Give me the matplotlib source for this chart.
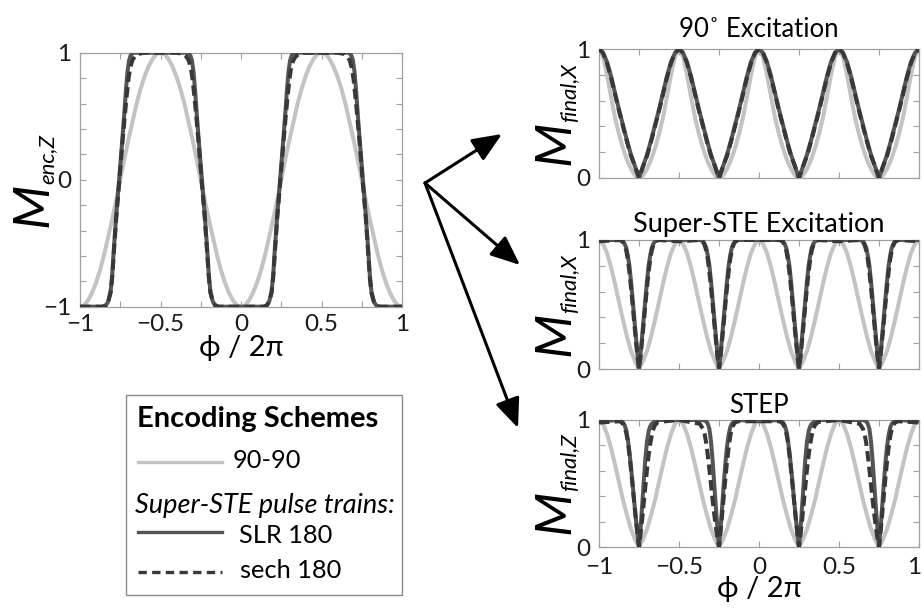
import numpy as np
import matplotlib
matplotlib.use("Agg")
import matplotlib.pyplot as plt
from matplotlib.patches import FancyArrowPatch, Rectangle
from matplotlib.lines import Line2D
from matplotlib.transforms import ScaledTranslation

plt.rcParams['font.family'] = ['Lato', 'DejaVu Sans']
plt.rcParams['axes.unicode_minus'] = True

W, H = 924, 608

# ------------------------------------------------------------------ data
# common phase grid (phi / 2pi) for the smooth curves
phi_grid = np.linspace(-1, 1, 81)

# ---- left panel: encoded longitudinal magnetisation M_enc,Z
enc_9090 = [
    -1.00, -0.99, -0.95, -0.89, -0.81, -0.71, -0.59, -0.45, -0.31, -0.16, 0.00,
    0.16, 0.31, 0.45, 0.59, 0.71, 0.81, 0.89, 0.95, 0.99, 1.00,
    0.99, 0.95, 0.89, 0.81, 0.71, 0.59, 0.45, 0.31, 0.16, 0.00,
    -0.16, -0.31, -0.45, -0.59, -0.71, -0.81, -0.89, -0.95, -0.99, -1.00,
    -0.99, -0.95, -0.89, -0.81, -0.71, -0.59, -0.45, -0.31, -0.16, 0.00,
    0.16, 0.31, 0.45, 0.59, 0.71, 0.81, 0.89, 0.95, 0.99, 1.00,
    0.99, 0.95, 0.89, 0.81, 0.71, 0.59, 0.45, 0.31, 0.16, 0.00,
    -0.16, -0.31, -0.45, -0.59, -0.71, -0.81, -0.89, -0.95, -0.99, -1.00]

enc_slr_phi = [
    -1.00, -0.86, -0.84, -0.825, -0.81, -0.80, -0.79, -0.775, -0.757, -0.74, -0.725, -0.715, -0.705, -0.695, -0.685, -0.67,
    -0.33, -0.315, -0.305, -0.295, -0.285, -0.275, -0.26, -0.243, -0.225, -0.21, -0.20, -0.19, -0.175, -0.16, -0.14,
    0.14, 0.16, 0.175, 0.19, 0.20, 0.21, 0.225, 0.243, 0.26, 0.275, 0.285, 0.295, 0.305, 0.315, 0.33,
    0.67, 0.685, 0.695, 0.705, 0.715, 0.725, 0.74, 0.757, 0.775, 0.79, 0.80, 0.81, 0.825, 0.84, 0.86, 1.00]
enc_slr = [
    -1.00, -1.00, -0.99, -0.96, -0.88, -0.75, -0.55, -0.28, 0.00, 0.27, 0.52, 0.70, 0.85, 0.94, 0.98, 1.00,
    1.00, 0.98, 0.94, 0.85, 0.70, 0.52, 0.27, 0.00, -0.28, -0.55, -0.75, -0.88, -0.96, -0.99, -1.00,
    -1.00, -0.99, -0.96, -0.88, -0.75, -0.55, -0.28, 0.00, 0.27, 0.52, 0.70, 0.85, 0.94, 0.98, 1.00,
    1.00, 0.98, 0.94, 0.85, 0.70, 0.52, 0.27, 0.00, -0.28, -0.55, -0.75, -0.88, -0.96, -0.99, -1.00, -1.00]

enc_sech_phi = [
    -1.00, -0.86, -0.84, -0.825, -0.81, -0.80, -0.79, -0.775, -0.755, -0.738, -0.722, -0.71, -0.70, -0.69, -0.675, -0.66, -0.64, -0.60,
    -0.40, -0.36, -0.34, -0.325, -0.31, -0.30, -0.29, -0.278, -0.262, -0.245, -0.225, -0.21, -0.20, -0.19, -0.175, -0.16, -0.14,
    0.14, 0.16, 0.175, 0.19, 0.20, 0.21, 0.225, 0.245, 0.262, 0.278, 0.29, 0.30, 0.31, 0.325, 0.34, 0.36, 0.40,
    0.60, 0.64, 0.66, 0.675, 0.69, 0.70, 0.71, 0.722, 0.738, 0.755, 0.775, 0.79, 0.80, 0.81, 0.825, 0.84, 0.86, 1.00]
enc_sech = [
    -1.00, -1.00, -0.99, -0.96, -0.89, -0.77, -0.58, -0.30, 0.00, 0.27, 0.50, 0.66, 0.78, 0.87, 0.94, 0.97, 0.99, 1.00,
    1.00, 0.99, 0.97, 0.94, 0.87, 0.78, 0.66, 0.50, 0.27, 0.00, -0.30, -0.58, -0.77, -0.89, -0.96, -0.99, -1.00,
    -1.00, -0.99, -0.96, -0.89, -0.77, -0.58, -0.30, 0.00, 0.27, 0.50, 0.66, 0.78, 0.87, 0.94, 0.97, 0.99, 1.00,
    1.00, 0.99, 0.97, 0.94, 0.87, 0.78, 0.66, 0.50, 0.27, 0.00, -0.30, -0.58, -0.77, -0.89, -0.96, -0.99, -1.00, -1.00]

# ---- right top: 90 deg excitation, M_final,X (on phi_grid)
exc90_9090 = [
    1.00, 0.94, 0.80, 0.63, 0.47, 0.34, 0.23, 0.14, 0.07, 0.02, 0.00,
    0.02, 0.07, 0.14, 0.23, 0.34, 0.47, 0.63, 0.80, 0.94, 1.00,
    0.94, 0.80, 0.63, 0.47, 0.34, 0.23, 0.14, 0.07, 0.02, 0.00,
    0.02, 0.07, 0.14, 0.23, 0.34, 0.47, 0.63, 0.80, 0.94, 1.00,
    0.94, 0.80, 0.63, 0.47, 0.34, 0.23, 0.14, 0.07, 0.02, 0.00,
    0.02, 0.07, 0.14, 0.23, 0.34, 0.47, 0.63, 0.80, 0.94, 1.00,
    0.94, 0.80, 0.63, 0.47, 0.34, 0.23, 0.14, 0.07, 0.02, 0.00,
    0.02, 0.07, 0.14, 0.23, 0.34, 0.47, 0.63, 0.80, 0.94, 1.00]
exc90_slr = [
    1.00, 0.97, 0.90, 0.79, 0.66, 0.53, 0.41, 0.29, 0.18, 0.09, 0.00,
    0.09, 0.18, 0.29, 0.41, 0.53, 0.66, 0.79, 0.90, 0.97, 1.00,
    0.97, 0.90, 0.79, 0.66, 0.53, 0.41, 0.29, 0.18, 0.09, 0.00,
    0.09, 0.18, 0.29, 0.41, 0.53, 0.66, 0.79, 0.90, 0.97, 1.00,
    0.97, 0.90, 0.79, 0.66, 0.53, 0.41, 0.29, 0.18, 0.09, 0.00,
    0.09, 0.18, 0.29, 0.41, 0.53, 0.66, 0.79, 0.90, 0.97, 1.00,
    0.97, 0.90, 0.79, 0.66, 0.53, 0.41, 0.29, 0.18, 0.09, 0.00,
    0.09, 0.18, 0.29, 0.41, 0.53, 0.66, 0.79, 0.90, 0.97, 1.00]
exc90_sech = [
    1.00, 0.97, 0.89, 0.78, 0.65, 0.52, 0.40, 0.28, 0.17, 0.09, 0.00,
    0.09, 0.17, 0.28, 0.40, 0.52, 0.65, 0.78, 0.89, 0.97, 1.00,
    0.97, 0.89, 0.78, 0.65, 0.52, 0.40, 0.28, 0.17, 0.09, 0.00,
    0.09, 0.17, 0.28, 0.40, 0.52, 0.65, 0.78, 0.89, 0.97, 1.00,
    0.97, 0.89, 0.78, 0.65, 0.52, 0.40, 0.28, 0.17, 0.09, 0.00,
    0.09, 0.17, 0.28, 0.40, 0.52, 0.65, 0.78, 0.89, 0.97, 1.00,
    0.97, 0.89, 0.78, 0.65, 0.52, 0.40, 0.28, 0.17, 0.09, 0.00,
    0.09, 0.17, 0.28, 0.40, 0.52, 0.65, 0.78, 0.89, 0.97, 1.00]

# ---- sample positions used for the sharp-dip curves (middle and bottom right)
phi_dip = [
    -1.00,
    -0.87, -0.85, -0.84, -0.83, -0.82, -0.81, -0.80, -0.79, -0.78, -0.77, -0.76, -0.75,
    -0.74, -0.73, -0.72, -0.71, -0.70, -0.69, -0.68, -0.67, -0.66, -0.65, -0.63,
    -0.50,
    -0.37, -0.35, -0.34, -0.33, -0.32, -0.31, -0.30, -0.29, -0.28, -0.27, -0.26, -0.25,
    -0.24, -0.23, -0.22, -0.21, -0.20, -0.19, -0.18, -0.17, -0.16, -0.15, -0.13,
    0.00,
    0.13, 0.15, 0.16, 0.17, 0.18, 0.19, 0.20, 0.21, 0.22, 0.23, 0.24, 0.25,
    0.26, 0.27, 0.28, 0.29, 0.30, 0.31, 0.32, 0.33, 0.34, 0.35, 0.37,
    0.50,
    0.63, 0.65, 0.66, 0.67, 0.68, 0.69, 0.70, 0.71, 0.72, 0.73, 0.74, 0.75,
    0.76, 0.77, 0.78, 0.79, 0.80, 0.81, 0.82, 0.83, 0.84, 0.85, 0.87,
    1.00]

# ---- right middle: Super-STE excitation, M_final,X
sste_9090 = [
    1.00, 0.97, 0.90, 0.79, 0.66, 0.52, 0.38, 0.25, 0.14, 0.06, 0.00,
    0.06, 0.14, 0.25, 0.38, 0.52, 0.66, 0.79, 0.90, 0.97, 1.00,
    0.97, 0.90, 0.79, 0.66, 0.52, 0.38, 0.25, 0.14, 0.06, 0.00,
    0.06, 0.14, 0.25, 0.38, 0.52, 0.66, 0.79, 0.90, 0.97, 1.00,
    0.97, 0.90, 0.79, 0.66, 0.52, 0.38, 0.25, 0.14, 0.06, 0.00,
    0.06, 0.14, 0.25, 0.38, 0.52, 0.66, 0.79, 0.90, 0.97, 1.00,
    0.97, 0.90, 0.79, 0.66, 0.52, 0.38, 0.25, 0.14, 0.06, 0.00,
    0.06, 0.14, 0.25, 0.38, 0.52, 0.66, 0.79, 0.90, 0.97, 1.00]
sste_slr = [
    1.00,
    1.00, 0.99, 0.97, 0.94, 0.88, 0.80, 0.68, 0.54, 0.40, 0.26, 0.12, 0.00,
    0.12, 0.26, 0.40, 0.54, 0.68, 0.80, 0.88, 0.94, 0.97, 0.99, 1.00,
    1.00,
    1.00, 0.99, 0.97, 0.94, 0.88, 0.80, 0.68, 0.54, 0.40, 0.26, 0.12, 0.00,
    0.12, 0.26, 0.40, 0.54, 0.68, 0.80, 0.88, 0.94, 0.97, 0.99, 1.00,
    1.00,
    1.00, 0.99, 0.97, 0.94, 0.88, 0.80, 0.68, 0.54, 0.40, 0.26, 0.12, 0.00,
    0.12, 0.26, 0.40, 0.54, 0.68, 0.80, 0.88, 0.94, 0.97, 0.99, 1.00,
    1.00,
    1.00, 0.99, 0.97, 0.94, 0.88, 0.80, 0.68, 0.54, 0.40, 0.26, 0.12, 0.00,
    0.12, 0.26, 0.40, 0.54, 0.68, 0.80, 0.88, 0.94, 0.97, 0.99, 1.00,
    1.00]
sste_sech = [
    0.99,
    1.00, 0.985, 0.96, 0.92, 0.85, 0.75, 0.63, 0.50, 0.36, 0.23, 0.10, 0.00,
    0.10, 0.23, 0.36, 0.50, 0.63, 0.75, 0.85, 0.92, 0.96, 0.985, 1.00,
    0.99,
    1.00, 0.985, 0.96, 0.92, 0.85, 0.75, 0.63, 0.50, 0.36, 0.23, 0.10, 0.00,
    0.10, 0.23, 0.36, 0.50, 0.63, 0.75, 0.85, 0.92, 0.96, 0.985, 1.00,
    1.00,
    1.00, 0.985, 0.96, 0.92, 0.85, 0.75, 0.63, 0.50, 0.36, 0.23, 0.10, 0.00,
    0.10, 0.23, 0.36, 0.50, 0.63, 0.75, 0.85, 0.92, 0.96, 0.985, 1.00,
    0.99,
    1.00, 0.985, 0.96, 0.92, 0.85, 0.75, 0.63, 0.50, 0.36, 0.23, 0.10, 0.00,
    0.10, 0.23, 0.36, 0.50, 0.63, 0.75, 0.85, 0.92, 0.96, 0.985, 1.00,
    0.99]

# ---- right bottom: STEP, M_final,Z
step_9090 = [
    1.00, 0.97, 0.89, 0.78, 0.65, 0.51, 0.37, 0.25, 0.14, 0.06, 0.00,
    0.06, 0.14, 0.25, 0.37, 0.51, 0.65, 0.78, 0.89, 0.97, 1.00,
    0.97, 0.89, 0.78, 0.65, 0.51, 0.37, 0.25, 0.14, 0.06, 0.00,
    0.06, 0.14, 0.25, 0.37, 0.51, 0.65, 0.78, 0.89, 0.97, 1.00,
    0.97, 0.89, 0.78, 0.65, 0.51, 0.37, 0.25, 0.14, 0.06, 0.00,
    0.06, 0.14, 0.25, 0.37, 0.51, 0.65, 0.78, 0.89, 0.97, 1.00,
    0.97, 0.89, 0.78, 0.65, 0.51, 0.37, 0.25, 0.14, 0.06, 0.00,
    0.06, 0.14, 0.25, 0.37, 0.51, 0.65, 0.78, 0.89, 0.97, 1.00]
step_slr = [
    0.99,
    1.00, 0.98, 0.96, 0.92, 0.85, 0.75, 0.63, 0.50, 0.36, 0.23, 0.11, 0.00,
    0.15, 0.33, 0.52, 0.70, 0.83, 0.91, 0.95, 0.97, 0.98, 0.99, 1.00,
    1.00,
    1.00, 1.00, 0.995, 0.99, 0.97, 0.93, 0.83, 0.68, 0.50, 0.32, 0.15, 0.00,
    0.15, 0.32, 0.50, 0.66, 0.79, 0.88, 0.94, 0.97, 0.985, 0.99, 1.00,
    0.99,
    1.00, 0.98, 0.96, 0.92, 0.85, 0.75, 0.63, 0.50, 0.36, 0.23, 0.11, 0.00,
    0.15, 0.33, 0.52, 0.70, 0.83, 0.91, 0.95, 0.97, 0.98, 0.99, 1.00,
    1.00,
    1.00, 1.00, 0.995, 0.99, 0.97, 0.93, 0.83, 0.68, 0.50, 0.32, 0.15, 0.00,
    0.15, 0.32, 0.50, 0.66, 0.79, 0.88, 0.94, 0.97, 0.985, 0.99, 1.00,
    0.99]
step_sech = [
    0.98,
    0.99, 0.97, 0.94, 0.90, 0.83, 0.73, 0.61, 0.48, 0.35, 0.22, 0.10, 0.00,
    0.10, 0.22, 0.35, 0.48, 0.61, 0.72, 0.81, 0.88, 0.93, 0.96, 0.985,
    1.00,
    0.97, 0.93, 0.89, 0.82, 0.72, 0.61, 0.49, 0.37, 0.26, 0.16, 0.07, 0.00,
    0.12, 0.26, 0.40, 0.54, 0.67, 0.78, 0.87, 0.93, 0.96, 0.98, 0.99,
    0.99,
    0.99, 0.97, 0.94, 0.90, 0.83, 0.73, 0.61, 0.48, 0.35, 0.22, 0.10, 0.00,
    0.10, 0.22, 0.35, 0.48, 0.61, 0.72, 0.81, 0.88, 0.93, 0.96, 0.985,
    1.00,
    0.97, 0.93, 0.89, 0.82, 0.72, 0.61, 0.49, 0.37, 0.26, 0.16, 0.07, 0.00,
    0.12, 0.26, 0.40, 0.54, 0.67, 0.78, 0.87, 0.93, 0.96, 0.98, 0.99,
    0.98]

panel_titles = ['90\u02DA Excitation', 'Super-STE Excitation', 'STEP']
legend_title = 'Encoding Schemes'
legend_labels = ['90-90', 'SLR 180', 'sech 180']
legend_subhead = 'Super-STE pulse trains:'
xlabel_text = '\u03d5 / 2\u03c0'

# ------------------------------------------------------------------ style
C_GRAY = '#c3c3c3'
C_SLR = '#555555'
C_SECH = '#383838'
C_SPINE = '#a0a0a0'
LW = 2.9
DASH = (0, (2.6, 1.3))
TICK_FS = 17.5

fig = plt.figure(figsize=(W / 100, H / 100), dpi=100)


def fx(px):
    return px / W


def fy(py):
    return 1 - py / H


def style_axes(ax, xpad):
    for s in ax.spines.values():
        s.set_color(C_SPINE)
        s.set_linewidth(0.9)
    ax.tick_params(which='both', direction='in', length=4, width=0.8,
                   color=C_SPINE, top=True, right=True, labelsize=TICK_FS,
                   labelcolor='#1a1a1a')
    ax.tick_params(axis='x', which='both', pad=xpad)
    ax.tick_params(axis='y', which='both', pad=6)


def draw_curves(ax, gx, gy, sx, sy, dx, dy):
    ax.plot(gx, gy, color=C_GRAY, lw=LW, solid_capstyle='butt', zorder=2)
    ax.plot(sx, sy, color=C_SLR, lw=LW, solid_capstyle='butt', zorder=3)
    ax.plot(dx, dy, color=C_SECH, lw=LW, linestyle=DASH, dash_capstyle='butt', zorder=4)


# ---- left panel
axL = fig.add_axes([fx(80), fy(306.7), 322 / W, 254 / H])
draw_curves(axL, phi_grid, enc_9090, enc_slr_phi, enc_slr, enc_sech_phi, enc_sech)
axL.set_xlim(-1, 1)
axL.set_ylim(-1, 1)
axL.set_xticks([-1, -0.5, 0, 0.5, 1])
axL.set_xticklabels(['\u22121', '\u22120.5', '0', '0.5', '1'])
axL.set_xticks([-0.75, -0.25, 0.25, 0.75], minor=True)
yt = np.round(np.arange(-1, 1.001, 0.2), 2)
axL.set_yticks(yt)
axL.set_yticklabels(['\u22121' if v == -1 else ('0' if abs(v) < 1e-9 else ('1' if v == 1 else '')) for v in yt])
style_axes(axL, 5)
axL.set_xlabel(xlabel_text, fontsize=21, labelpad=0)

# ---- right panels
right_boxes = [(49, 178), (240, 369), (420, 547)]
axes_R = []
for i, (top, bot) in enumerate(right_boxes):
    ax = fig.add_axes([fx(599), fy(bot), 320 / W, (bot - top) / H])
    axes_R.append(ax)
    ax.set_xlim(-1, 1)
    ax.set_ylim(0, 1)
    ax.set_xticks(np.round(np.arange(-1, 1.001, 0.25), 2))
    if i == 2:
        ax.set_xticklabels(['\u22121', '', '\u22120.5', '', '0', '', '0.5', '', '1'])
    else:
        ax.set_xticklabels([''] * 9)
    yr = np.round(np.arange(0, 1.001, 0.2), 2)
    ax.set_yticks(yr)
    ax.set_yticklabels(['0', '', '', '', '', '1'])
    style_axes(ax, 7)

# keep the right-most "1" inside the picture, as in the reference
last_lbl = axes_R[2].get_xticklabels()[-1]
last_lbl.set_transform(last_lbl.get_transform() + ScaledTranslation(-5 / 100, 0, fig.dpi_scale_trans))

draw_curves(axes_R[0], phi_grid, exc90_9090, phi_grid, exc90_slr, phi_grid, exc90_sech)
draw_curves(axes_R[1], phi_grid, sste_9090, phi_dip, sste_slr, phi_dip, sste_sech)
draw_curves(axes_R[2], phi_grid, step_9090, phi_dip, step_slr, phi_dip, step_sech)

title_pads = [8.6, 5.8, 5.0]
title_sizes = [18.5, 19.5, 18.5]
for ax, t, p, s in zip(axes_R, panel_titles, title_pads, title_sizes):
    ax.set_title(t, fontsize=s, pad=p)
axes_R[2].set_xlabel(xlabel_text, fontsize=21, labelpad=-1)

# ---- y labels  M_sub (large italic M with smaller italic subscript)
renderer = fig.canvas.get_renderer()


def ylabel_group(ax, sub, base_off=30, drop=6):
    bb = ax.get_position()
    cy = (bb.y0 + bb.y1) / 2 * H
    xb = bb.x0 * W - base_off
    tM = fig.text(fx(xb), 0.5, 'M', fontsize=37, style='italic', rotation=90,
                  rotation_mode='anchor', ha='left', va='baseline')
    tS = fig.text(fx(xb + drop), 0.5, sub, fontsize=16, style='italic',
                  rotation=90, rotation_mode='anchor', ha='left', va='baseline')
    hM = tM.get_window_extent(renderer).height
    hS = tS.get_window_extent(renderer).height
    y0 = cy - (hM + hS) / 2
    tM.set_y(y0 / H)
    tS.set_y((y0 + hM - 1) / H)


ylabel_group(axL, 'enc,Z', base_off=33)
for ax, sub in zip(axes_R, ['final,X', 'final,X', 'final,Z']):
    ylabel_group(ax, sub)

# ---- arrows from the encoding panel to the three read-outs
origin = (425, 183)
for tip in [(502, 134), (520, 265), (518, 428)]:
    fig.add_artist(FancyArrowPatch(
        (fx(origin[0]), fy(origin[1])), (fx(tip[0]), fy(tip[1])),
        transform=fig.transFigure, arrowstyle='-|>,head_length=0.9,head_width=0.38',
        mutation_scale=20, lw=2.2, color='black', shrinkA=0, shrinkB=0))

# ---- legend box
fig.add_artist(Rectangle((fx(126), fy(595)), 276 / W, 200 / H, transform=fig.transFigure,
                         fill=False, edgecolor='#8a8a8a', lw=1.0))
fig.text(fx(137), fy(427), legend_title, fontsize=21, fontweight='bold', va='baseline')
fig.add_artist(Line2D([fx(138), fx(222)], [fy(462), fy(462)], transform=fig.transFigure,
                      color=C_GRAY, lw=2.4))
fig.text(fx(233), fy(468), legend_labels[0], fontsize=18.3, va='baseline')
fig.text(fx(135), fy(513), legend_subhead, fontsize=19.5, style='italic', va='baseline')
fig.add_artist(Line2D([fx(138), fx(222)], [fy(532), fy(532)], transform=fig.transFigure,
                      color=C_SLR, lw=2.4))
fig.text(fx(239), fy(543), legend_labels[1], fontsize=18.3, va='baseline')
fig.add_artist(Line2D([fx(138), fx(222)], [fy(572), fy(572)], transform=fig.transFigure,
                      color=C_SECH, lw=2.4, linestyle=(0, (2.5, 1.6))))
fig.text(fx(240), fy(578), legend_labels[2], fontsize=18.3, va='baseline')

fig.savefig('out.png', dpi=100)
